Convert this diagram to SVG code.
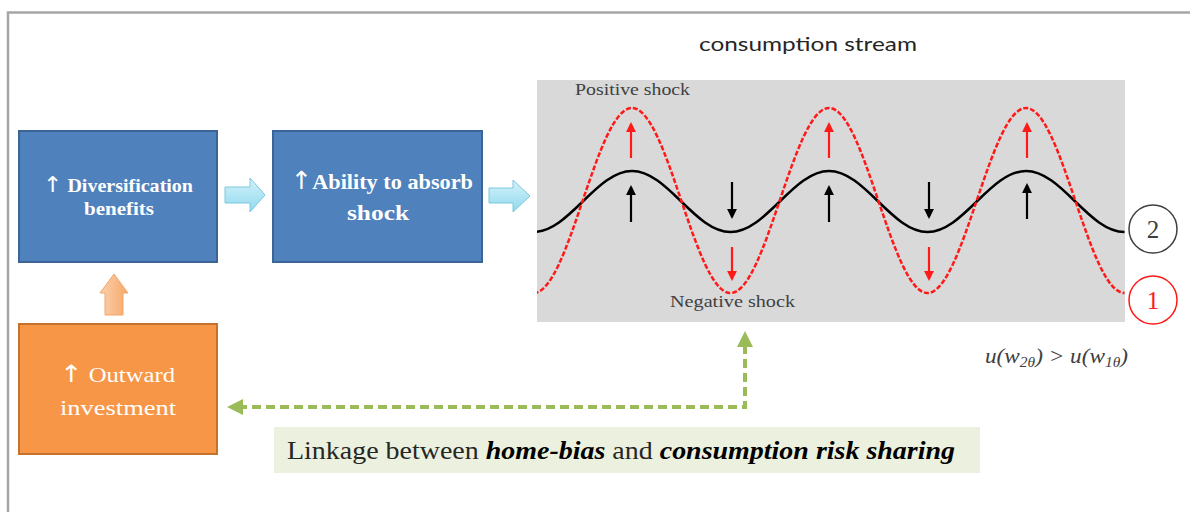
<svg xmlns="http://www.w3.org/2000/svg" width="1190" height="512" viewBox="0 0 1190 512">
<style>
.box-blue{fill:#4F81BD;stroke:#3A6596;stroke-width:2}
.box-orange{fill:#F79646;stroke:#C6722F;stroke-width:2}
.wt{fill:#FFFFFF;font-family:"Liberation Serif",serif}
.ar{font-family:"DejaVu Sans",sans-serif;font-weight:normal}
.small{font-family:"Liberation Serif",serif;font-size:17px;fill:#404040}
.blk{stroke:#000;stroke-width:2.5;fill:none}
.red{stroke:#FF1A1A;stroke-width:2.5;fill:none;stroke-dasharray:5 2}
.arr-b{stroke:#000;stroke-width:2.2}
.arr-r{stroke:#FF1A1A;stroke-width:2.2}
.green{stroke:#9BBB59;stroke-width:4;fill:none;stroke-dasharray:9 5}
</style>
<defs>
<marker id="mb" viewBox="0 0 10 10" refX="8" refY="5" markerWidth="4.5" markerHeight="4.5" orient="auto" markerUnits="strokeWidth"><path d="M0,0 L10,5 L0,10 z" fill="#000"/></marker>
<marker id="mr" viewBox="0 0 10 10" refX="8" refY="5" markerWidth="4.5" markerHeight="4.5" orient="auto" markerUnits="strokeWidth"><path d="M0,0 L10,5 L0,10 z" fill="#FF1A1A"/></marker>
<linearGradient id="gb" x1="0" y1="0" x2="0" y2="1"><stop offset="0" stop-color="#D6F2FA"/><stop offset="1" stop-color="#8FD9EE"/></linearGradient>
<linearGradient id="go" x1="0" y1="0" x2="1" y2="0"><stop offset="0" stop-color="#FBD1AE"/><stop offset="1" stop-color="#F6A868"/></linearGradient>
<clipPath id="panelclip"><rect x="537" y="80" width="588" height="242"/></clipPath>
</defs>
<rect width="1190" height="512" fill="#FFFFFF"/>
<g id="frame"><path d="M8,512 L8,12.5 L1190,12.5" fill="none" stroke="#A6A6A6" stroke-width="2.5"/></g>

<g id="title"><text x="699" y="51" textLength="218" lengthAdjust="spacingAndGlyphs" font-family="Lato, 'Open Sans', sans-serif" font-size="19" fill="#262626">consumption stream</text></g>

<g id="diversification">
<rect class="box-blue" x="19" y="131" width="198" height="131"/>
<text class="wt" x="43" y="192" font-size="19" font-weight="bold" textLength="150" lengthAdjust="spacingAndGlyphs"><tspan class="ar" font-size="22">↑</tspan> Diversification</text>
<text class="wt" x="84" y="215" font-size="19" font-weight="bold" textLength="70" lengthAdjust="spacingAndGlyphs">benefits</text>
</g>
<g id="ability">
<rect class="box-blue" x="273" y="131" width="209" height="131"/>
<text class="wt" x="291" y="189" font-size="22" font-weight="bold" textLength="182" lengthAdjust="spacingAndGlyphs"><tspan class="ar" font-size="25">↑</tspan>Ability to absorb</text>
<text class="wt" x="347" y="220" font-size="22" font-weight="bold" textLength="62" lengthAdjust="spacingAndGlyphs">shock</text>
</g>
<g id="outward">
<rect class="box-orange" x="19" y="324" width="198" height="130"/>
<text class="wt" x="60" y="382" font-size="22" textLength="115" lengthAdjust="spacingAndGlyphs"><tspan class="ar" font-size="24">↑</tspan> Outward</text>
<text class="wt" x="60" y="415" font-size="22" textLength="116" lengthAdjust="spacingAndGlyphs">investment</text>
</g>

<g id="panel">
<rect x="537" y="80" width="588" height="242" fill="#D9D9D9"/>
<g clip-path="url(#panelclip)">
<path class="blk" d="M533.5,232 C569.3,232 596.2,171 632,171 C667.8,171 694.7,232 730.5,232 C766.3,232 793.2,171 829,171 C864.8,171 891.7,232 927.5,232 C963.3,232 990.2,171 1026,171 C1061.8,171 1088.7,232 1124.5,232"/>
<path class="red" d="M533.5,293 C569.3,293 596.2,108 632,108 C667.8,108 694.7,293 730.5,293 C766.3,293 793.2,108 829,108 C864.8,108 891.7,293 927.5,293 C963.3,293 990.2,108 1026,108 C1061.8,108 1088.7,293 1124.5,293"/>
</g>
<line class="arr-r" x1="631" y1="158" x2="631" y2="124" marker-end="url(#mr)"/>
<line class="arr-r" x1="829" y1="158" x2="829" y2="124" marker-end="url(#mr)"/>
<line class="arr-r" x1="1027" y1="158" x2="1027" y2="124" marker-end="url(#mr)"/>
<line class="arr-b" x1="631" y1="222" x2="631" y2="187" marker-end="url(#mb)"/>
<line class="arr-b" x1="829" y1="222" x2="829" y2="187" marker-end="url(#mb)"/>
<line class="arr-b" x1="1027" y1="219" x2="1027" y2="185" marker-end="url(#mb)"/>
<line class="arr-b" x1="732" y1="182" x2="732" y2="217" marker-end="url(#mb)"/>
<line class="arr-b" x1="929" y1="182" x2="929" y2="217" marker-end="url(#mb)"/>
<line class="arr-r" x1="732" y1="247" x2="732" y2="279" marker-end="url(#mr)"/>
<line class="arr-r" x1="929" y1="247" x2="929" y2="279" marker-end="url(#mr)"/>
<text class="small" x="575" y="95" textLength="115" lengthAdjust="spacingAndGlyphs">Positive shock</text>
<text class="small" x="670" y="307" textLength="125" lengthAdjust="spacingAndGlyphs">Negative shock</text>
</g>

<g id="label2">
<circle cx="1153" cy="229" r="24" fill="#FFFFFF" stroke="#404040" stroke-width="1.5"/>
<text x="1153" y="238" text-anchor="middle" font-family="'Liberation Serif',serif" font-size="25" fill="#404040">2</text>
</g>
<g id="label1">
<circle cx="1153" cy="300" r="24" fill="#FFFFFF" stroke="#FF1A1A" stroke-width="1.5"/>
<text x="1153" y="309" text-anchor="middle" font-family="'Liberation Serif',serif" font-size="25" fill="#FF1A1A">1</text>
</g>

<g id="formula">
<text x="985" y="363" textLength="143" lengthAdjust="spacingAndGlyphs" font-family="'Liberation Serif',serif" font-style="italic" font-size="21" fill="#404040">u(w<tspan font-size="14" dy="4">2θ</tspan><tspan dy="-4">) &gt; u(w</tspan><tspan font-size="14" dy="4">1θ</tspan><tspan dy="-4">)</tspan></text>
</g>

<g id="linkage">
<rect x="274" y="427" width="706" height="46" fill="#EBF1DE"/>
<text x="287" y="459" textLength="668" lengthAdjust="spacingAndGlyphs" font-family="'Liberation Serif',serif" font-size="26" fill="#262626">Linkage between <tspan font-weight="bold" font-style="italic" fill="#000">home-bias</tspan> and  <tspan font-weight="bold" font-style="italic" fill="#000">consumption risk sharing</tspan></text>
</g>

<g id="connectors">
<path d="M225,187 L250,187 L250,178 L265,195 L250,212 L250,203 L225,203 Z" fill="url(#gb)" stroke="#7CC8DD" stroke-width="1"/>
<path d="M489,188 L513,188 L513,180 L530,196 L513,212 L513,203 L489,203 Z" fill="url(#gb)" stroke="#7CC8DD" stroke-width="1"/>
<path d="M105,315 L105,293 L100,293 L114,274 L128,293 L123,293 L123,315 Z" fill="url(#go)" stroke="#F3A66A" stroke-width="1"/>
<path class="green" d="M745,345 L745,407 L240,407"/>
<path d="M745,331 L737,347 L753,347 Z" fill="#9BBB59"/>
<path d="M227,407 L243,399 L243,415 Z" fill="#9BBB59"/>
</g>
</svg>
